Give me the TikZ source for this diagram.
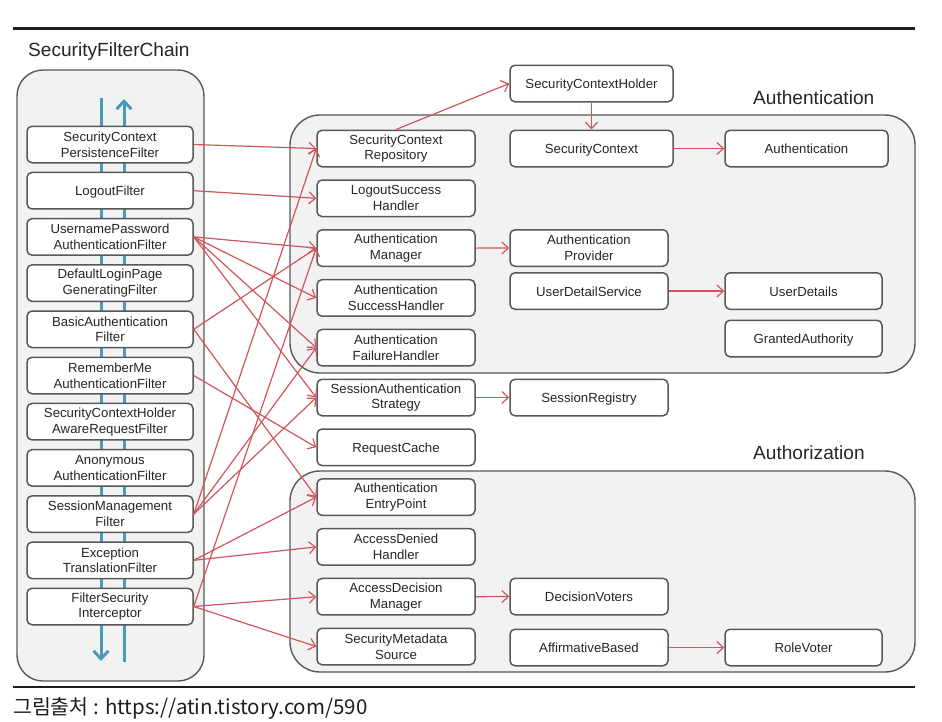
\documentclass[tikz,border=0pt]{standalone}
\usepackage{fontspec}
\setmainfont{Liberation Sans}
\newfontfamily\krfont{Noto Sans CJK KR}
\usetikzlibrary{arrows.meta}
\definecolor{boxline}{HTML}{585858}
\definecolor{panelfill}{HTML}{F2F2F2}
\definecolor{arrowred}{HTML}{D2555B}
\definecolor{flowblue}{HTML}{4A9BBA}
\definecolor{textdark}{HTML}{262626}
\definecolor{rulecol}{HTML}{1E1E1E}
\begin{document}
\begin{tikzpicture}[x=1pt,y=-1pt,
  comp/.style={draw=boxline, line width=1.5pt, rounded corners=5pt, fill=white,
    minimum height=36.5pt, inner sep=0pt, align=center,
    font=\fontsize{13.2}{15.8}\selectfont, text=textdark},
  oneline/.style={text height=12.5pt, text depth=2pt},
  filt/.style={comp, minimum width=166pt},
  mid/.style={comp, minimum width=158pt},
  wide/.style={comp, minimum width=163pt},
  narrow/.style={comp, minimum width=157pt},
  panel/.style={draw=boxline, line width=1.4pt, fill=panelfill},
  title/.style={anchor=west, font=\fontsize{19.1}{21}\selectfont, text=textdark, inner sep=0pt},
  rel/.style={draw=arrowred, line width=1.2pt, -{Straight Barb[length=6.5pt,width=12pt]}},
  flow/.style={draw=flowblue, line width=3pt, -{Straight Barb[length=8pt,width=15pt]}},
  rulestyle/.style={draw=rulecol}
]
\useasboundingbox (0,0) rectangle (942,721);

% rules
\draw[rulestyle, line width=3pt] (13,28.5) -- (915,28.5);
\draw[rulestyle, line width=2.5pt] (13,687) -- (915,687);

% panels
\draw[panel, rounded corners=26pt] (17,70) rectangle (204,681);
\draw[panel, rounded corners=30pt] (290,115) rectangle (915,373);
\draw[panel, rounded corners=30pt] (290,471) rectangle (915,672);

% titles
\node[title] (tchain) at (28,52) {SecurityFilterChain};
\node[title] (tauthn) at (753,98) {Authentication};
\node[title] (tauthz) at (753,453) {Authorization};

% blue flow arrows
\coordinate (dtop) at (101,98);
\coordinate (dbot) at (101,661);
\coordinate (utop) at (124,99);
\coordinate (ubot) at (124,662);
\draw[flow] (dtop) -- (dbot);
\draw[flow] (ubot) -- (utop);

% filters
\node[filt] (f1)  at (110,144.5) {SecurityContext\\PersistenceFilter};
\node[filt,oneline] (f2)  at (110,190.7) {LogoutFilter};
\node[filt] (f3)  at (110,236.9) {UsernamePassword\\AuthenticationFilter};
\node[filt] (f4)  at (110,283.1) {DefaultLoginPage\\GeneratingFilter};
\node[filt] (f5)  at (110,329.3) {BasicAuthentication\\Filter};
\node[filt] (f6)  at (110,375.5) {RememberMe\\AuthenticationFilter};
\node[filt] (f7)  at (110,421.7) {SecurityContextHolder\\AwareRequestFilter};
\node[filt] (f8)  at (110,467.9) {Anonymous\\AuthenticationFilter};
\node[filt] (f9)  at (110,514.1) {SessionManagement\\Filter};
\node[filt] (f10) at (110,560.3) {Exception\\TranslationFilter};
\node[filt] (f11) at (110,606.5) {FilterSecurity\\Interceptor};

% middle column
\node[mid] (m1)  at (396,148.5) {SecurityContext\\Repository};
\node[mid] (m2)  at (396,198.3) {LogoutSuccess\\Handler};
\node[mid] (m3)  at (396,248.1) {Authentication\\Manager};
\node[mid] (m4)  at (396,297.9) {Authentication\\SuccessHandler};
\node[mid] (m5)  at (396,347.7) {Authentication\\FailureHandler};
\node[mid] (m6)  at (396,397.5) {SessionAuthentication\\Strategy};
\node[mid,oneline] (m7)  at (396,447.3) {RequestCache};
\node[mid] (m8)  at (396,497.1) {Authentication\\EntryPoint};
\node[mid] (m9)  at (396,546.9) {AccessDenied\\Handler};
\node[mid] (m10) at (396,596.7) {AccessDecision\\Manager};
\node[mid] (m11) at (396,646.5) {SecurityMetadata\\Source};

% third column
\node[wide,oneline] (sch) at (591.5,83.5) {SecurityContextHolder};
\node[wide,oneline] (sc)  at (591.5,148.5) {SecurityContext};
\node[mid] (ap)   at (589,248) {Authentication\\Provider};
\node[mid,oneline] (uds)  at (589,291) {UserDetailService};
\node[mid,oneline] (sr)   at (589,397.5) {SessionRegistry};
\node[mid,oneline] (dv)   at (589,596.5) {DecisionVoters};
\node[mid,oneline] (ab)   at (589,647.5) {AffirmativeBased};

% fourth column
\node[wide,oneline] (auth)  at (806.5,148.5) {Authentication};
\node[narrow,oneline] (ud)  at (803.5,291) {UserDetails};
\node[narrow,oneline] (ga)  at (803.5,338.5) {GrantedAuthority};
\node[narrow,oneline] (rv)  at (803.5,647.5) {RoleVoter};

% filter relations
\draw[rel] (f1.east) -- (m1.west);
\draw[rel] (f2.east) -- (m2.west);
\draw[rel] (f3.east) -- (m3.west);
\draw[rel] (f3.east) -- (m4.west);
\draw[rel] (f3.east) -- (m5.west);
\draw[rel] (f3.east) -- (m6.west);
\draw[rel] (f5.east) -- (m3.west);
\draw[rel] (f5.east) -- (m8.west);
\draw[rel] (f6.east) -- (m7.west);
\draw[rel] (f9.east) -- (m1.west);
\draw[rel] (f9.east) -- (m5.west);
\draw[rel] (f9.east) -- (m6.west);
\draw[rel] (f10.east) -- (m8.west);
\draw[rel] (f10.east) -- (m9.west);
\draw[rel] (f11.east) -- (m3.west);
\draw[rel] (f11.east) -- (m10.west);
\draw[rel] (f11.east) -- (m11.west);

% component relations
\draw[rel] (m1.north) -- (sch.west);
\draw[rel] (sch.south) -- (sc.north);
\draw[rel] (sc.east) -- (auth.west);
\draw[rel] (m3.east) -- (ap.west);
\draw[rel] (uds.east) -- (ud.west);
\draw[rel] (m6.east) -- (sr.west);
\draw[rel] (m10.east) -- (dv.west);
\draw[rel] (ab.east) -- (rv.west);

% caption
\node[anchor=west, inner sep=0pt, font=\krfont\fontsize{20.5}{22}\selectfont, text=rulecol] (cap) at (13,708) {그림출처 : https://atin.tistory.com/590};
\end{tikzpicture}
\end{document}
